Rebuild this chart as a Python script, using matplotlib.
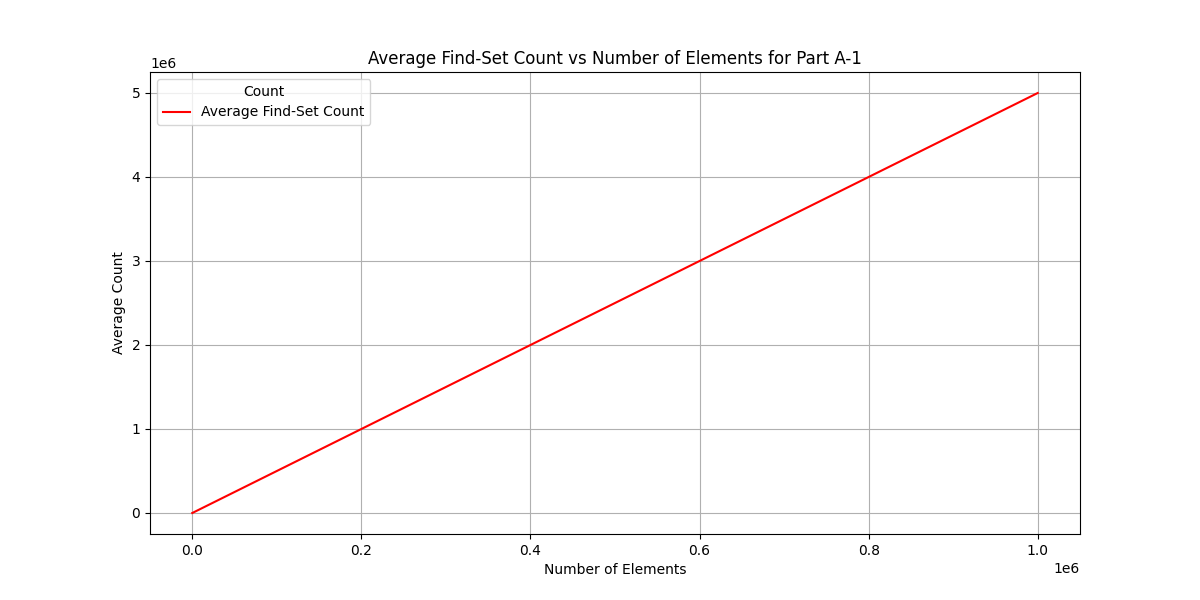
import matplotlib
matplotlib.use("Agg")
import matplotlib.pyplot as plt

num_elements = [0, 200000, 400000, 600000, 800000, 1000000]
avg_find_set = [0, 1000000, 2000000, 3000000, 4000000, 5000000]

fig, ax = plt.subplots(figsize=(12, 6), dpi=100)
ax.plot(num_elements, avg_find_set, color="red", label="Average Find-Set Count")
ax.set_title("Average Find-Set Count vs Number of Elements for Part A-1")
ax.set_xlabel("Number of Elements")
ax.set_ylabel("Average Count")
ax.grid(True)
ax.legend(title="Count", loc="upper left")
fig.savefig("out.png")
